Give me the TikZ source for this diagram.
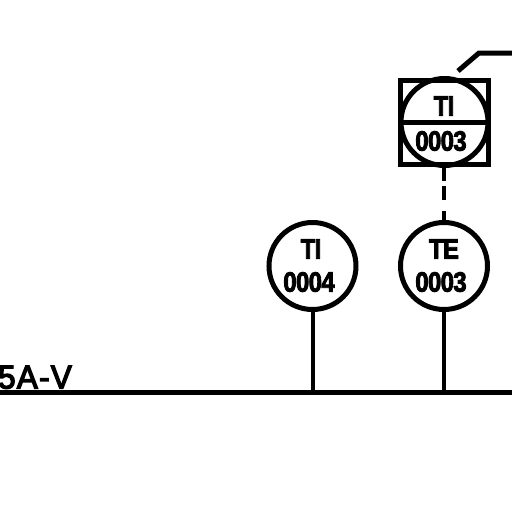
\documentclass[tikz,border=0pt]{standalone}
\usepackage{fontspec}
\usepackage{tikz}
\usetikzlibrary{positioning}
\newfontfamily\cadfont[FakeStretch=0.85,FakeBold=3,LetterSpace=-2]{Liberation Sans Bold}
\newfontfamily\cadwide[FakeStretch=0.95,FakeBold=4,LetterSpace=4]{Liberation Sans}
\tikzset{
    bubble/.style={draw, circle, line width=5pt, minimum size=87pt, inner sep=0pt},
    tagtext/.style={font=\cadfont\fontsize{28}{28}\selectfont, inner sep=0pt},
    pipetext/.style={font=\cadwide\fontsize{33}{33}\selectfont, inner sep=0pt},
    pipeline/.style={line width=5pt}
}
\begin{document}
\begin{tikzpicture}[x=1pt, y=-1pt]
        \useasboundingbox (0,0) rectangle (512,512);
        % Main line
        \coordinate (lineleft) at (0,392);
        \coordinate (lineright) at (512,392);
        \draw[pipeline] (lineleft) -- (lineright);
        \node[pipetext, anchor=south east] (linetag) at (72,389) {5A-V};
        % Field instruments
        \node[bubble] (tibubble) at (312.5,266) {};
        \node[bubble] (tebubble) at (444,266) {};
        \node[tagtext] (titop) at (311,249) {TI};
        \node[tagtext] (tinum) at (309,282) {0004};
        \node[tagtext] (tetop) at (444,249) {TE};
        \node[tagtext] (tenum) at (441,282) {0003};
        \draw[line width=4pt] (tibubble) -- (tibubble |- lineleft);
        \draw[line width=4pt] (tebubble) -- (tebubble |- lineleft);
        % Panel instrument
        \node[draw, rectangle, line width=5pt, minimum width=88pt, minimum height=84pt, inner sep=0pt] (panelbox) at (444.5,122) {};
        \node[bubble] (panelbubble) at (444.5,122) {};
        \draw[line width=5pt] (panelbox.west) -- (panelbox.east);
        \node[tagtext] (paneltop) at (444,106) {TI};
        \node[tagtext] (panelnum) at (441,141) {0003};
        \draw[line width=4pt, dash pattern=on 14pt off 5pt on 14pt off 11pt on 15pt off 0pt] (panelbox.south -| tebubble) -- (tebubble.north);
        % Signal leader
        \coordinate (leaderstart) at (458,71);
        \coordinate (leaderbend) at (479,53);
        \coordinate (leaderend) at (512,53);
        \draw[line width=5pt] (leaderstart) -- (leaderbend) -- (leaderend);
    \end{tikzpicture}
\end{document}
